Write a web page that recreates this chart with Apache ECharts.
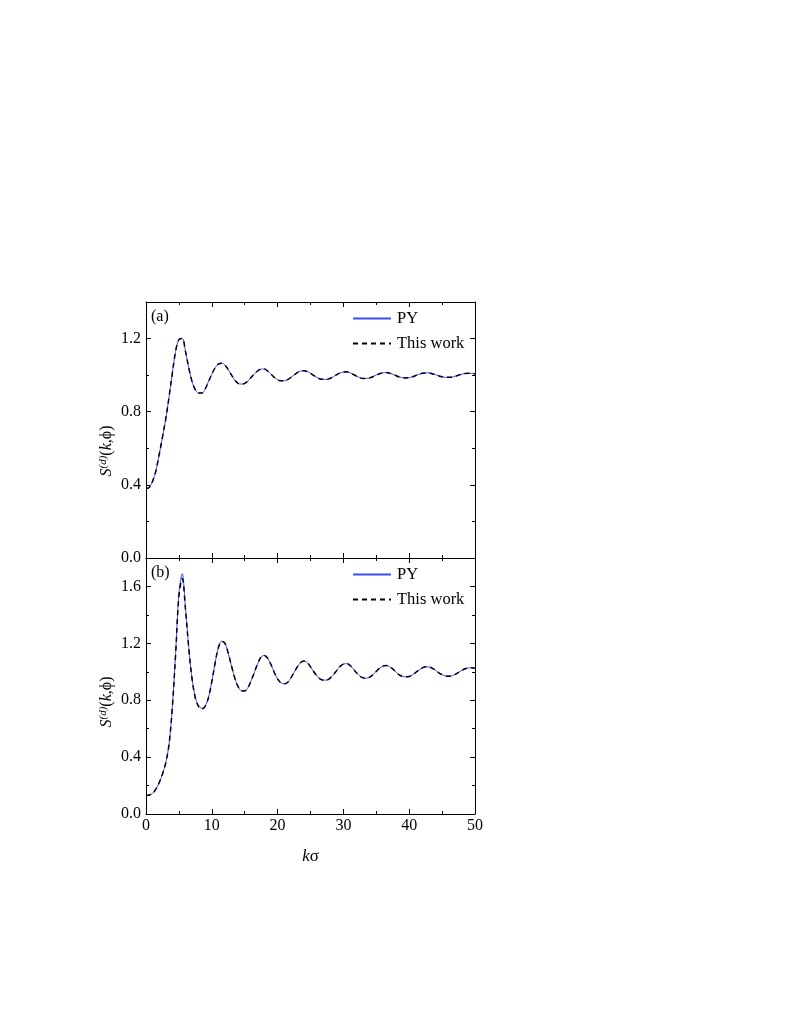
<!DOCTYPE html>
<html>
<head>
<meta charset="utf-8">
<script src="https://cdn.jsdelivr.net/npm/echarts@6/dist/echarts.min.js"></script>
<style>
html,body{margin:0;padding:0;background:#fff;}
#chart{width:789px;height:1021px;}
</style>
</head>
<body>
<div id="chart"></div>
<script>
// k sigma grid (0 to 50, step 0.5)
const kValues = [];
for (let i = 0; i <= 100; i++) kValues.push(i * 0.5);

// Panel (a)
const aPY = [
0.380,0.385,0.420,0.475,0.565,0.660,0.760,0.880,1.010,1.130,
1.195,1.200,1.130,1.040,0.965,0.920,0.902,0.902,0.925,0.965,
1.005,1.040,1.060,1.065,1.055,1.030,1.000,0.972,0.955,0.951,
0.955,0.968,0.988,1.008,1.024,1.033,1.033,1.022,1.005,0.988,
0.975,0.969,0.969,0.975,0.987,1.001,1.014,1.022,1.024,1.020,
1.010,0.998,0.987,0.979,0.977,0.977,0.983,0.992,1.003,1.012,
1.017,1.018,1.013,1.004,0.994,0.986,0.982,0.982,0.985,0.992,
1.001,1.008,1.013,1.014,1.011,1.005,0.997,0.990,0.986,0.985,
0.986,0.991,0.998,1.005,1.010,1.012,1.012,1.008,1.002,0.996,
0.991,0.988,0.988,0.989,0.994,1.000,1.005,1.009,1.010,1.010,
1.007
];
const aThisWork = [
0.380,0.385,0.420,0.475,0.565,0.660,0.760,0.880,1.010,1.130,
1.195,1.200,1.130,1.040,0.965,0.920,0.902,0.902,0.925,0.965,
1.005,1.040,1.060,1.065,1.055,1.030,1.000,0.972,0.955,0.951,
0.955,0.968,0.988,1.008,1.024,1.033,1.033,1.022,1.005,0.988,
0.975,0.969,0.969,0.975,0.987,1.001,1.014,1.022,1.024,1.020,
1.010,0.998,0.987,0.979,0.977,0.977,0.983,0.992,1.003,1.012,
1.017,1.018,1.013,1.004,0.994,0.986,0.982,0.982,0.985,0.992,
1.001,1.008,1.013,1.014,1.011,1.005,0.997,0.990,0.986,0.985,
0.986,0.991,0.998,1.005,1.010,1.012,1.012,1.008,1.002,0.996,
0.991,0.988,0.988,0.989,0.994,1.000,1.005,1.009,1.010,1.010,
1.007
];

// Panel (b)
const bPY = [
0.130,0.133,0.145,0.175,0.220,0.280,0.360,0.490,0.750,1.130,
1.550,1.690,1.450,1.170,0.950,0.820,0.760,0.743,0.760,0.820,
0.930,1.060,1.170,1.215,1.200,1.130,1.040,0.955,0.895,0.866,
0.865,0.890,0.940,1.000,1.060,1.105,1.115,1.095,1.050,0.995,
0.950,0.922,0.915,0.925,0.955,0.995,1.035,1.065,1.075,1.065,
1.035,1.000,0.970,0.948,0.941,0.942,0.955,0.980,1.010,1.038,
1.054,1.057,1.045,1.020,0.993,0.970,0.957,0.955,0.962,0.980,
1.003,1.025,1.040,1.044,1.037,1.020,0.998,0.978,0.967,0.965,
0.967,0.978,0.995,1.013,1.027,1.035,1.034,1.025,1.010,0.993,
0.980,0.971,0.969,0.972,0.982,0.996,1.010,1.021,1.027,1.028,
1.024
];
const bThisWork = [
0.130,0.133,0.145,0.175,0.220,0.280,0.360,0.490,0.750,1.120,
1.530,1.655,1.440,1.165,0.950,0.815,0.755,0.738,0.758,0.820,
0.930,1.060,1.170,1.213,1.200,1.130,1.040,0.955,0.895,0.866,
0.865,0.890,0.940,1.000,1.060,1.105,1.115,1.095,1.050,0.995,
0.950,0.922,0.915,0.925,0.955,0.995,1.035,1.065,1.075,1.065,
1.035,1.000,0.970,0.948,0.941,0.942,0.955,0.980,1.010,1.038,
1.054,1.057,1.045,1.020,0.993,0.970,0.957,0.955,0.962,0.980,
1.003,1.025,1.040,1.044,1.037,1.020,0.998,0.978,0.967,0.965,
0.967,0.978,0.995,1.013,1.027,1.035,1.034,1.025,1.010,0.993,
0.980,0.971,0.969,0.972,0.982,0.996,1.010,1.021,1.027,1.028,
1.024
];

const xTicks = [0, 10, 20, 30, 40, 50];
const yMaxA = 1.4, yMaxB = 1.8;
const seriesNames = ['PY', 'This work'];
const panelLabels = ['(a)', '(b)'];

const FONT = 'Liberation Serif';
const BLUE = '#3a4cff';

function pairs(ys) { return kValues.map((k, i) => [k, ys[i]]); }

const G = { left: 146, width: 329, height: 256 };
const grids = [
  { left: G.left, top: 302, width: G.width, height: G.height },
  { left: G.left, top: 302, width: G.width, height: G.height },
  { left: G.left, top: 558, width: G.width, height: G.height },
  { left: G.left, top: 558, width: G.width, height: G.height }
];

const axisLine = { show: true, onZero: false, lineStyle: { color: '#000', width: 1 } };

function xAxisMain(gridIndex, position, labels) {
  return {
    type: 'value', gridIndex, position, min: 0, max: 50, interval: 10,
    axisLine,
    axisTick: { show: true, inside: true, length: 5, lineStyle: { color: '#000' } },
    minorTick: { show: true, splitNumber: 2, length: 3, lineStyle: { color: '#000' } },
    splitLine: { show: false }, minorSplitLine: { show: false },
    axisLabel: { show: labels, color: '#000', fontFamily: FONT, fontSize: 16, margin: 4 },
    name: labels ? '{i|k}{n|σ}' : '',
    nameLocation: 'middle', nameGap: 34,
    nameTextStyle: { color: '#000', fontFamily: FONT, fontSize: 17,
      rich: { i: { fontStyle: 'italic', fontFamily: FONT, fontSize: 17, color: '#000' },
              n: { fontFamily: FONT, fontSize: 17, color: '#000' } } }
  };
}
function xAxisHidden(gridIndex) {
  return { type: 'value', gridIndex, min: 0, max: 50, show: false };
}
function fmtY(v) {
  const r = Math.round(v / 0.4);
  return Math.abs(v - r * 0.4) < 1e-6 ? v.toFixed(1) : '';
}
function yAxisMajor(gridIndex, position, max, labels, shiftPad) {
  return {
    type: 'value', gridIndex, position, min: 0, max, interval: 0.4,
    axisLine,
    axisTick: { show: true, inside: true, length: 5, lineStyle: { color: '#000' } },
    splitLine: { show: false },
    axisLabel: { show: labels, color: '#000', fontFamily: FONT, fontSize: 16, margin: 5, formatter: fmtY },
    name: labels ? '{i|S}{sup|(d)}{n|(}{i|k}{n|,ϕ)}' : '',
    nameLocation: 'middle', nameRotate: 90, nameGap: 30,
    nameTextStyle: { color: '#000', fontFamily: FONT, fontSize: 16, padding: [0, shiftPad, 0, 0],
      rich: {
        i: { fontStyle: 'italic', fontFamily: FONT, fontSize: 16, color: '#000' },
        n: { fontFamily: FONT, fontSize: 16, color: '#000' },
        sup: { fontStyle: 'italic', fontFamily: FONT, fontSize: 11, color: '#000', verticalAlign: 'top', padding: [0, 0, 7, 0] }
      } }
  };
}
function yAxisMinor(gridIndex, position, max) {
  return {
    type: 'value', gridIndex, position, min: 0, max, interval: 0.2,
    axisLine: { show: false },
    axisTick: { show: true, inside: true, length: 3, lineStyle: { color: '#000' } },
    splitLine: { show: false },
    axisLabel: { show: false }
  };
}

function lineSeries(name, data, xi, yi, dashed) {
  return {
    name, type: 'line', xAxisIndex: xi, yAxisIndex: yi, data: pairs(data),
    smooth: 0.35, symbol: 'none', showSymbol: false, silent: true,
    z: dashed ? 3 : 2,
    lineStyle: dashed ? { color: '#000', width: 1.5, type: [5, 4] } : { color: BLUE, width: 1 },
    itemStyle: { color: dashed ? '#000' : BLUE }
  };
}

function legendAt(top) {
  return {
    orient: 'vertical', left: 352, top, padding: 0,
    itemWidth: 38, itemHeight: 14, itemGap: 8,
    data: seriesNames, selectedMode: false,
    itemStyle: { opacity: 0 },
    textStyle: { color: '#000', fontFamily: FONT, fontSize: 16.5, padding: [0, 0, 0, 1] }
  };
}

const option = {
  animation: false,
  backgroundColor: '#fff',
  grid: grids,
  title: [
    { text: panelLabels[0], left: 151, top: 309, padding: 0, textStyle: { fontFamily: FONT, fontSize: 16, fontWeight: 'normal', color: '#000' } },
    { text: panelLabels[1], left: 151, top: 565, padding: 0, textStyle: { fontFamily: FONT, fontSize: 16, fontWeight: 'normal', color: '#000' } }
  ],
  legend: [legendAt(310), legendAt(566)],
  xAxis: [
    xAxisMain(0, 'bottom', false),
    xAxisMain(0, 'top', false),
    xAxisHidden(1),
    xAxisMain(2, 'bottom', true),
    xAxisMain(2, 'top', false),
    xAxisHidden(3)
  ],
  yAxis: [
    yAxisMajor(0, 'left', yMaxA, true, 42),
    yAxisMajor(0, 'right', yMaxA, false, 0),
    yAxisMinor(1, 'left', yMaxA),
    yAxisMinor(1, 'right', yMaxA),
    yAxisMajor(2, 'left', yMaxB, true, 32),
    yAxisMajor(2, 'right', yMaxB, false, 0),
    yAxisMinor(3, 'left', yMaxB),
    yAxisMinor(3, 'right', yMaxB)
  ],
  series: [
    lineSeries(seriesNames[0], aPY, 0, 0, false),
    lineSeries(seriesNames[1], aThisWork, 0, 0, true),
    lineSeries(seriesNames[0], bPY, 3, 4, false),
    lineSeries(seriesNames[1], bThisWork, 3, 4, true)
  ]
};

const chart = echarts.init(document.getElementById('chart'), null, { renderer: 'canvas' });
chart.setOption(option);
</script>
</body>
</html>
